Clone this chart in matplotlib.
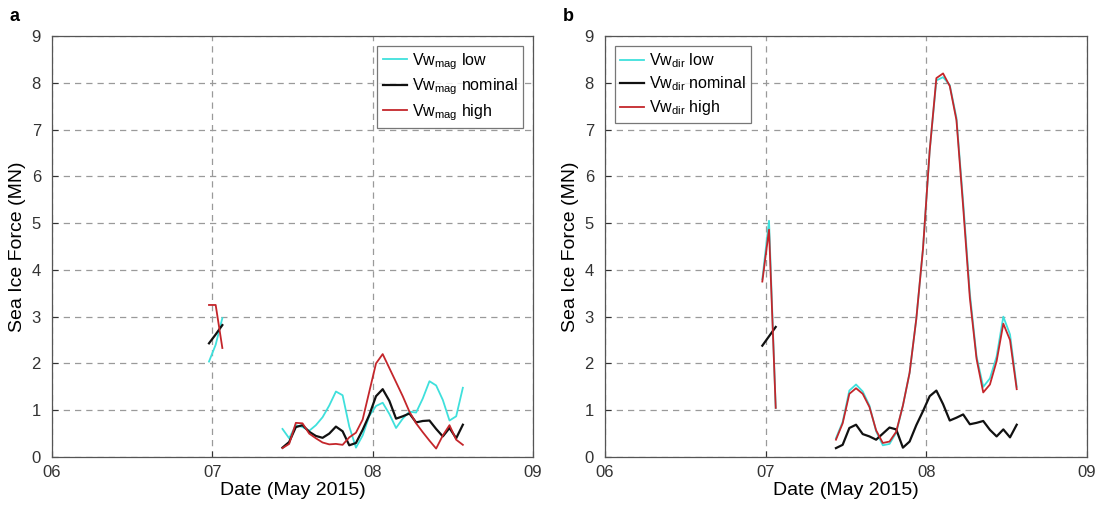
import matplotlib
matplotlib.use("Agg")
import matplotlib.pyplot as plt
import numpy as np

plt.rcParams['font.family'] = ['Liberation Sans', 'DejaVu Sans']
plt.rcParams['mathtext.fontset'] = 'custom'
plt.rcParams['mathtext.rm'] = 'Liberation Sans'
plt.rcParams['mathtext.it'] = 'Liberation Sans:italic'

# hours since 07 May 00:00 (samples centred half an hour earlier)
hours_seg1 = [0, 1, 2]
hours_seg2 = list(range(11, 39))

# Panel a: wind magnitude
a_low_1 = [2.04, 2.40, 2.97]
a_nom_1 = [2.43, 2.62, 2.82]
a_high_1 = [3.25, 3.25, 2.33]
a_low_2 = [0.60, 0.40, 0.68, 0.64, 0.56, 0.68, 0.85, 1.10, 1.40, 1.32, 0.65, 0.20,
           0.46, 0.88, 1.09, 1.16, 0.92, 0.62, 0.82, 0.97, 0.95, 1.25, 1.62, 1.53,
           1.22, 0.78, 0.87, 1.48]
a_nom_2 = [0.20, 0.32, 0.64, 0.68, 0.54, 0.45, 0.41, 0.50, 0.65, 0.55, 0.25, 0.30,
           0.58, 0.90, 1.30, 1.45, 1.20, 0.82, 0.87, 0.93, 0.74, 0.77, 0.78, 0.60,
           0.44, 0.62, 0.40, 0.69]
a_high_2 = [0.19, 0.28, 0.73, 0.72, 0.50, 0.40, 0.31, 0.27, 0.28, 0.26, 0.42, 0.52,
            0.80, 1.40, 2.00, 2.20, 1.90, 1.60, 1.30, 0.97, 0.72, 0.53, 0.35, 0.18,
            0.46, 0.68, 0.37, 0.26]

# Panel b: wind direction
b_low_1 = [3.80, 5.05, 1.05]
b_nom_1 = [2.38, 2.58, 2.78]
b_high_1 = [3.75, 4.86, 1.05]
b_low_2 = [0.40, 0.75, 1.42, 1.55, 1.40, 1.10, 0.55, 0.25, 0.28, 0.52, 1.10, 1.80,
           2.95, 4.45, 6.55, 8.05, 8.12, 7.95, 7.25, 5.45, 3.50, 2.15, 1.50, 1.68,
           2.15, 3.00, 2.62, 1.50]
b_nom_2 = [0.19, 0.26, 0.62, 0.69, 0.49, 0.44, 0.37, 0.50, 0.63, 0.59, 0.20, 0.33,
           0.68, 0.98, 1.30, 1.42, 1.13, 0.78, 0.84, 0.91, 0.70, 0.73, 0.77, 0.58,
           0.44, 0.59, 0.42, 0.69]
b_high_2 = [0.37, 0.72, 1.35, 1.47, 1.35, 1.07, 0.57, 0.30, 0.33, 0.54, 1.10, 1.80,
            2.95, 4.45, 6.55, 8.10, 8.20, 7.93, 7.20, 5.35, 3.40, 2.10, 1.38, 1.55,
            2.05, 2.85, 2.50, 1.45]

xticks = [6, 7, 8, 9]
xticklabels = ['06', '07', '08', '09']
yticks = list(range(0, 10))

CYAN = '#3fe0dc'
RED = '#c4262b'
BLACK = '#111111'


def to_day(hours):
    return 7 + (np.asarray(hours) - 0.5) / 24.0


fig = plt.figure(figsize=(10.97, 5.09), dpi=100)
ax_a = fig.add_axes([52 / 1097, 1 - 457 / 509, 481 / 1097, 421 / 509])
ax_b = fig.add_axes([605 / 1097, 1 - 457 / 509, 482 / 1097, 421 / 509])

panels = [
    (ax_a, 'mag', (a_low_1, a_nom_1, a_high_1), (a_low_2, a_nom_2, a_high_2), 'upper right', 'a'),
    (ax_b, 'dir', (b_low_1, b_nom_1, b_high_1), (b_low_2, b_nom_2, b_high_2), 'upper left', 'b'),
]

for ax, sub, s1, s2, loc, letter in panels:
    names = ['low', 'nominal', 'high']
    colors = [CYAN, BLACK, RED]
    lws = [1.3, 1.6, 1.3]
    for i in range(3):
        ax.plot(to_day(hours_seg1), s1[i], color=colors[i], lw=lws[i],
                label=r'Vw$_{\mathrm{%s}}$ %s' % (sub, names[i]))
        ax.plot(to_day(hours_seg2), s2[i], color=colors[i], lw=lws[i])
    ax.set_xlim(6, 9)
    ax.set_ylim(0, 9)
    ax.set_xticks(xticks)
    ax.set_xticklabels(xticklabels)
    ax.set_yticks(yticks)
    ax.grid(True, linestyle=(0, (5, 4)), color='#9a9a9a', lw=0.9)
    ax.tick_params(direction='in', labelsize=12, length=4, colors='#333333')
    ax.tick_params(axis='y', pad=8)
    ax.tick_params(axis='x', pad=6)
    for sp in ax.spines.values():
        sp.set_color('#555555')
        sp.set_linewidth(0.9)
    ax.set_xlabel('Date (May 2015)', fontsize=14, labelpad=1)
    ax.set_ylabel('Sea Ice Force (MN)', fontsize=14, labelpad=4)
    leg = ax.legend(loc=loc, fontsize=11.5, frameon=True, fancybox=False,
                    handlelength=1.5, handletextpad=0.3, borderpad=0.35,
                    labelspacing=0.3, borderaxespad=0.6)
    leg.get_frame().set_edgecolor('#555555')
    leg.get_frame().set_linewidth(0.9)
    fig.text(ax.get_position().x0 - 42 / 1097, 0.985, letter, fontsize=13,
             fontweight='bold', va='top', ha='left')

fig.savefig('out.png', dpi=100)
